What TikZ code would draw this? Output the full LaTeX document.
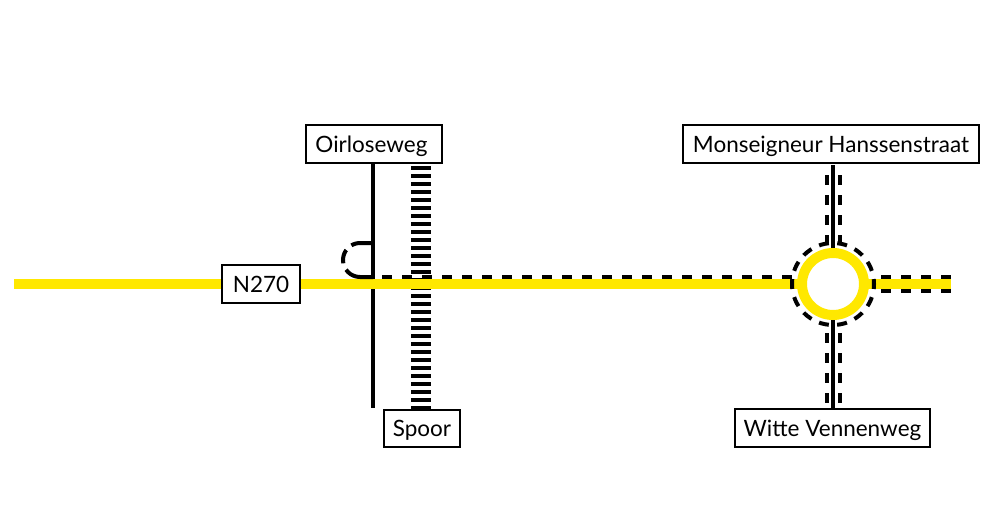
\documentclass[tikz,border=0pt]{standalone}
\usepackage{fontspec}
\setmainfont{Lato}
\definecolor{roadyellow}{HTML}{FFE800}
\tikzset{
  x=1pt,y=-1pt,
  label box/.style={draw=black,line width=2pt,fill=white,inner sep=0pt,font=\fontsize{22.5}{25}\selectfont,text height=16pt,text depth=0pt,anchor=center},
  road/.style={draw=roadyellow,line width=10pt},
  street/.style={draw=black,line width=4pt},
  kerb/.style={draw=black,line width=4pt,dash pattern=on 10pt off 10pt},
  rail/.style={draw=black,line width=20pt,dash pattern=on 4pt off 4pt},
}
\begin{document}
\begin{tikzpicture}
\useasboundingbox (0,0) rectangle (992,516);
% free ends
\coordinate (roadW) at (14,284);
\coordinate (roadE) at (951,284);
\coordinate (c) at (833,284);
\coordinate (oirS) at (373,408);
\coordinate (oirN) at (373,163);
\coordinate (railN) at (421,166);
\coordinate (railS) at (421,409);
\coordinate (loopA) at (373,243);
\coordinate (loopB) at (373,277);
\coordinate (dashE) at (792,277);
\coordinate (northT) at (832.5,165);
\coordinate (northB) at (832.5,249);
\coordinate (southT) at (832.5,319);
\coordinate (southB) at (832.5,408);
% street and rail below road
\draw[street] (oirN) -- (oirS);
\draw[rail] (railN) -- (railS);
\draw[street] (northT) -- (northB);
\draw[street] (southT) -- (southB);
\draw[kerb] (826.5,175) -- (826.5,245);
\draw[kerb] (839.5,175) -- (839.5,245);
\draw[kerb] (826.5,333) -- (826.5,408);
\draw[kerb] (839.5,333) -- (839.5,408);
% road
\draw[road] (roadW) -- (roadE);
\draw[fill=white,draw=roadyellow,line width=10pt] (c) circle[radius=31];
\draw[draw=black,line width=4pt,dash pattern=on 10pt off 8.4pt,dash phase=5pt] (c) circle[radius=41];
% dashed edges
\draw[kerb] (382,277) -- (dashE);
\draw[kerb] (881,277) -- (951,277);
\draw[kerb] (881,291) -- (951,291);
\draw[line width=4pt,dash pattern=on 22pt off 7pt on 14pt off 7pt on 40pt] (loopA) -- (360,243) arc[start angle=270,end angle=90,radius=17] -- (loopB);
% labels
\node[label box,minimum width=78,minimum height=38] (n270) at (261,284) {N270};
\node[label box,minimum width=136,minimum height=38,xshift=0] (oir) at (374,144) {\hspace{-5pt}Oirloseweg};
\node[label box,minimum width=296,minimum height=38] (mon) at (831,144) {Monseigneur Hanssenstraat};
\node[label box,minimum width=76,minimum height=37] (spoor) at (422,428.5) {Spoor};
\node[label box,minimum width=195,minimum height=38] (wit) at (832.5,428) {Witte Vennenweg};
\end{tikzpicture}
\end{document}
